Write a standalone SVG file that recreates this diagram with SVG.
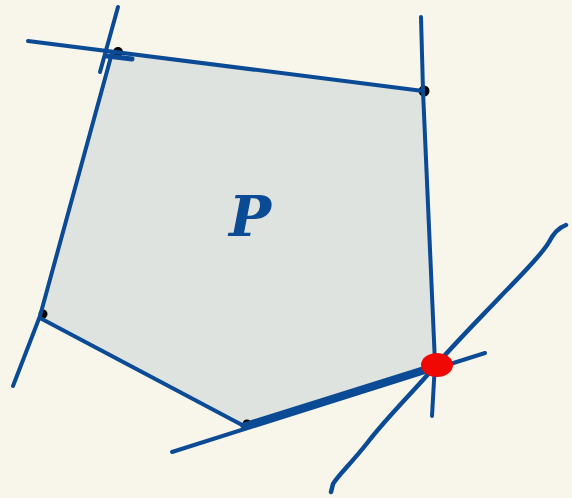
<svg xmlns="http://www.w3.org/2000/svg" width="572" height="498" viewBox="0 0 572 498">
<style>
.ln{stroke:#0b4a94;stroke-width:4;stroke-linecap:round;stroke-linejoin:round;fill:none}
.dot{fill:#000}
</style>
<rect width="572" height="498" fill="#f8f6ea"/>
<g id="polygon">
<polygon points="112,53 423,91 435,363 244,426 40,316" fill="#dfe3df"/>
</g>
<g id="vertices">
<circle class="dot" cx="118" cy="52" r="5"/>
<circle class="dot" cx="424" cy="91" r="5.5"/>
<circle class="dot" cx="43" cy="314" r="4.5"/>
<circle class="dot" cx="247" cy="424" r="4.5"/>
</g>
<g id="connectors">
<line class="ln" x1="28" y1="41" x2="423" y2="91"/>
<line class="ln" x1="107" y1="56" x2="132" y2="59" style="stroke-width:5"/>
<line class="ln" x1="118" y1="7" x2="100" y2="72"/>
<polyline class="ln" points="112,53 40,316 13,386"/>
<polyline class="ln" points="421,17 423,91 435,363 432,416"/>
<line class="ln" x1="40" y1="318" x2="244" y2="426"/>
<line class="ln" x1="172" y1="452" x2="485" y2="353"/>
<line class="ln" x1="244" y1="426" x2="432" y2="367" style="stroke-width:7"/>
<path class="ln" d="M566,225 C558,228 553,234 549,242 C541,256 520,276 500,297 C480,318 460,338 437,364 C415,390 388,416 368,442 C350,465 338,475 333,484 L331,492" style="stroke-width:4.5"/>
</g>
<g id="point">
<ellipse cx="437" cy="365" rx="16" ry="12" fill="#f00805"/>
</g>
<g id="label">
<text x="250" y="236" font-family="DejaVu Serif, serif" font-style="italic" font-weight="bold" font-size="56" fill="#0b4a94" text-anchor="middle">P</text>
</g>
</svg>
